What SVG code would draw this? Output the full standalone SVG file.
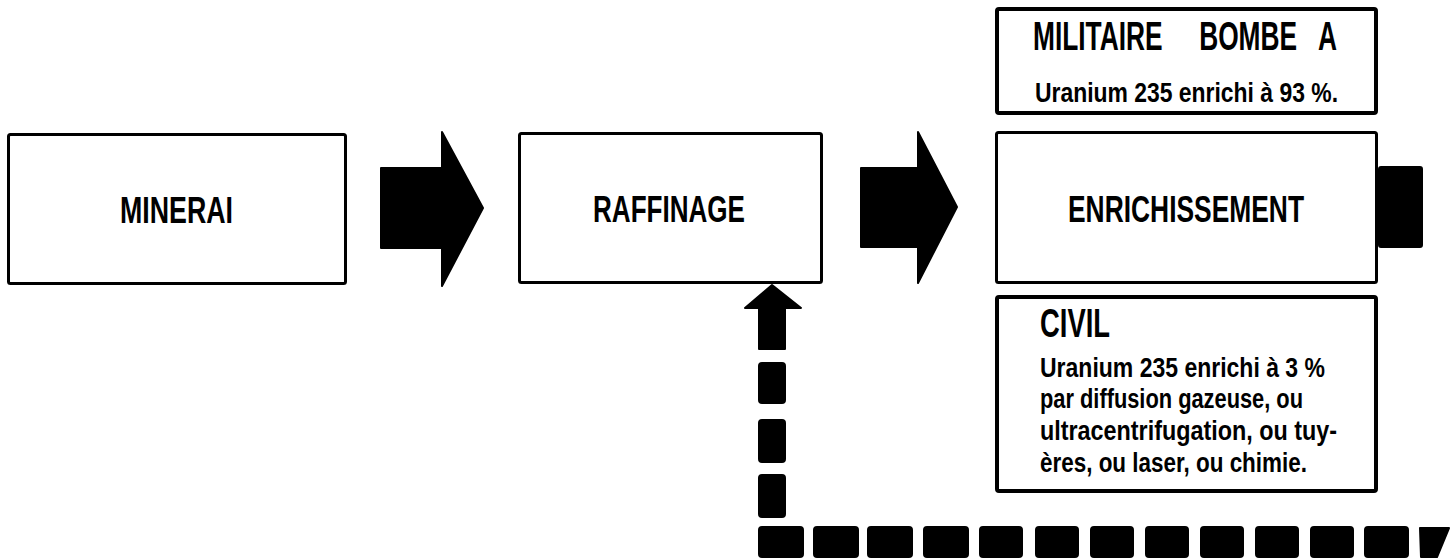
<svg xmlns="http://www.w3.org/2000/svg" width="1454" height="559" viewBox="0 0 1454 559">
<style>
.box{fill:#fff;stroke:#000;stroke-width:3;}
.boxb{fill:#fff;stroke:#000;stroke-width:4;}
.t{font-family:"Liberation Sans",Arial,sans-serif;font-weight:bold;fill:#000;}
.big{font-size:36px;}
.h{font-size:40px;}
.s{font-size:28px;}
.blk{fill:#000;stroke:#000;stroke-width:2;stroke-linejoin:round;}
</style>
<g id="connectors">
<polygon class="blk" points="381,168 442,168 442,132 483,208 442,286 442,248 381,248"/>
<polygon class="blk" points="861,168 918,168 918,132 957,207 918,283 918,247 861,247"/>
<rect class="blk" x="1379" y="167" width="43" height="80" rx="2"/>
<polygon class="blk" points="759,349 759,308 745,308 772,285 801,308 785,308 785,349"/>
<rect class="blk" x="759" y="363" width="26" height="40" rx="3"/>
<rect class="blk" x="759" y="420" width="26" height="42" rx="3"/>
<rect class="blk" x="759" y="475" width="26" height="42" rx="3"/>
<rect class="blk" x="759" y="527" width="44" height="30" rx="3"/>
<rect class="blk" x="814" y="527" width="44" height="30" rx="3"/>
<rect class="blk" x="868" y="527" width="44" height="30" rx="3"/>
<rect class="blk" x="924" y="527" width="44" height="30" rx="3"/>
<rect class="blk" x="980" y="527" width="42" height="30" rx="3"/>
<rect class="blk" x="1036" y="527" width="42" height="30" rx="3"/>
<rect class="blk" x="1091" y="527" width="42" height="30" rx="3"/>
<rect class="blk" x="1146" y="527" width="42" height="30" rx="3"/>
<rect class="blk" x="1201" y="527" width="42" height="30" rx="3"/>
<rect class="blk" x="1256" y="527" width="42" height="30" rx="3"/>
<rect class="blk" x="1311" y="527" width="42" height="30" rx="3"/>
<rect class="blk" x="1365" y="527" width="43" height="30" rx="3"/>
<polygon class="blk" points="1420,528 1449,528 1437,557 1421,557"/>
</g>
<g id="minerai">
<rect class="box" x="8.5" y="134.5" width="337" height="149" rx="2"/>
<text class="t big" x="120" y="223" textLength="113" lengthAdjust="spacingAndGlyphs">MINERAI</text>
</g>
<g id="raffinage">
<rect class="box" x="519.5" y="133.5" width="302" height="149" rx="2"/>
<text class="t big" x="593" y="222" textLength="152" lengthAdjust="spacingAndGlyphs">RAFFINAGE</text>
</g>
<g id="enrichissement">
<rect class="box" x="996.5" y="132.5" width="380" height="150" rx="2"/>
<text class="t big" x="1068" y="222" textLength="236" lengthAdjust="spacingAndGlyphs">ENRICHISSEMENT</text>
</g>
<g id="militaire">
<rect class="boxb" x="997" y="9" width="379" height="104" rx="2"/>
<text class="t h" transform="translate(1033,50) scale(0.65,1)" x="0" y="0" textLength="467.7" lengthAdjust="spacingAndGlyphs" xml:space="preserve">MILITAIRE     BOMBE   A</text>
<text class="t s" x="1035" y="102" textLength="303" lengthAdjust="spacingAndGlyphs">Uranium 235 enrichi à 93 %.</text>
</g>
<g id="civil">
<rect class="boxb" x="997" y="297" width="379" height="194" rx="2"/>
<text class="t h" x="1040" y="337" textLength="70" lengthAdjust="spacingAndGlyphs">CIVIL</text>
<text class="t s" x="1040" y="377" textLength="285" lengthAdjust="spacingAndGlyphs">Uranium 235 enrichi à 3 %</text>
<text class="t s" x="1040" y="408" textLength="263" lengthAdjust="spacingAndGlyphs">par diffusion gazeuse, ou</text>
<text class="t s" x="1040" y="440" textLength="297" lengthAdjust="spacingAndGlyphs">ultracentrifugation, ou tuy-</text>
<text class="t s" x="1040" y="472" textLength="267" lengthAdjust="spacingAndGlyphs">ères, ou laser, ou chimie.</text>
</g>
</svg>
